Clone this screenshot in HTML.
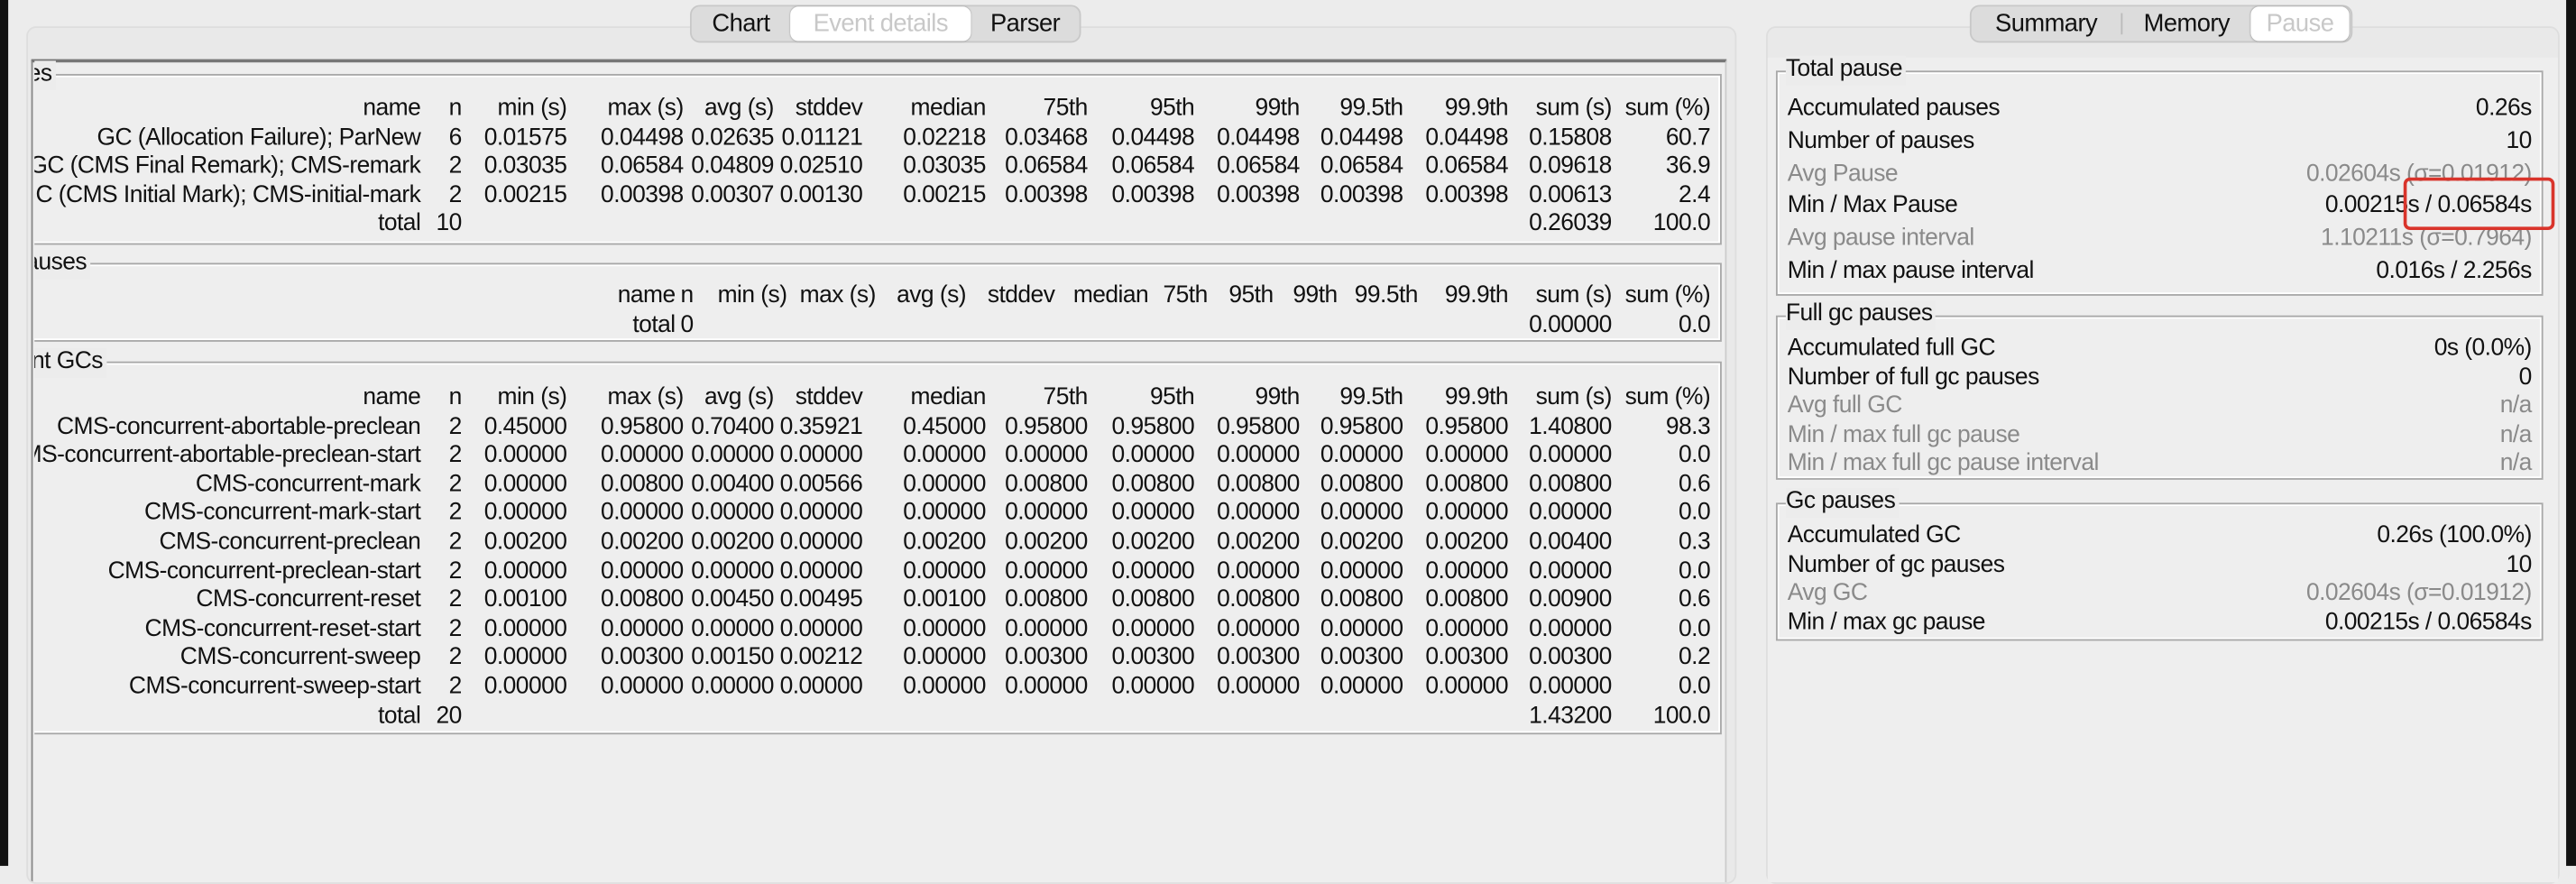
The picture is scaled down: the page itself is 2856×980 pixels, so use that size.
<!DOCTYPE html>
<html><head><meta charset="utf-8">
<style>
html,body{margin:0;padding:0;background:#ececec;overflow:hidden;width:2856px;height:958px;}
#page{position:absolute;left:0;top:0;width:1568px;height:527px;transform:scale(1.82143);transform-origin:0 0;background:#ececec;font-family:"Liberation Sans",sans-serif;font-size:14.5px;letter-spacing:-0.3px;color:#111;}
.abs{position:absolute;}
.t{position:absolute;white-space:nowrap;line-height:18px;height:18px;}
.r{text-align:right;}
.gray{color:#8a8a8a;}
.seg{position:absolute;top:3px;height:21px;background:#dcdcdc;border:1px solid #c8c8c8;border-radius:6px;}
.tab{position:absolute;top:0;height:21px;line-height:21px;text-align:center;font-size:15px;}
.sel{background:#fff;color:#c8c8c8;border-radius:5px;box-shadow:0 0 1px #999;}
.grp{position:absolute;border:1px solid #a8a8a8;box-shadow:inset 0 0 0 1px #fff;}
.gt{position:absolute;background:#ececec;line-height:16px;padding-right:2px;}
</style></head><body>
<div id="page">
  <div class="abs" style="left:0;top:0;width:5px;height:527px;background:#111"></div>
  <div class="abs" style="left:1562px;top:0;width:6px;height:527px;background:#111"></div>

  <div class="abs" id="leftPanel" style="left:16px;top:16px;width:1039px;height:520px;border:1px solid #dedede;border-radius:6px;background:#e9e9e9;overflow:hidden">
    <div class="abs" style="left:2px;top:19px;width:1030px;height:500px;border:1px solid #888;border-top:2px solid #777;border-right:1px solid #ccc;background:#eeeeee"></div>
    <div id="leftContent" class="abs" style="left:4px;top:0;width:1035px;height:520px;overflow:hidden"></div>
  </div>
  <div class="seg" style="left:420px;width:236px">
    <div class="tab" style="left:0;width:60px">Chart</div>
    <div class="tab sel" style="left:60px;width:110px">Event details</div>
    <div class="tab" style="left:170px;width:66px">Parser</div>
  </div>

  <div class="abs" style="left:1075px;top:16px;width:481px;height:520px;border:1px solid #dedede;border-radius:6px;background:#e9e9e9">
    <div class="abs" style="left:0;top:18px;width:481px;height:502px;background:#eeeeee"></div>
  </div>
  <div class="seg" style="left:1199px;width:231px">
    <div class="tab" style="left:0;width:91px">Summary</div>
    <div class="abs" style="left:91px;top:4px;width:1px;height:13px;background:#bbb"></div>
    <div class="tab" style="left:92px;width:78px">Memory</div>
    <div class="tab sel" style="left:170px;width:60px">Pause</div>
  </div>
  <div id="rightContent" class="abs" style="left:0;top:0;width:1568px;height:526px"></div>
  <div class="abs" style="left:1463px;top:108px;width:88px;height:28px;border:2px solid #d9342b;border-radius:4px"></div>
</div>
<script>
var cols1 = [255,280,344,415,470,524,599,661,726,790,853,917,980,1040];
var cols2 = [410,421,478,532,587,641,698,734,774,813,862,917,980,1040];
var headers = ["name","n","min (s)","max (s)","avg (s)","stddev","median","75th","95th","99th","99.5th","99.9th","sum (s)","sum (%)"];
var pauseRows = [
 ["GC (Allocation Failure); ParNew","6","0.01575","0.04498","0.02635","0.01121","0.02218","0.03468","0.04498","0.04498","0.04498","0.04498","0.15808","60.7"],
 ["GC (CMS Final Remark); CMS-remark","2","0.03035","0.06584","0.04809","0.02510","0.03035","0.06584","0.06584","0.06584","0.06584","0.06584","0.09618","36.9"],
 ["GC (CMS Initial Mark); CMS-initial-mark","2","0.00215","0.00398","0.00307","0.00130","0.00215","0.00398","0.00398","0.00398","0.00398","0.00398","0.00613","2.4"],
 ["total","10","","","","","","","","","","","0.26039","100.0"]];
var fullRows = [["total","0","","","","","","","","","","","0.00000","0.0"]];
var concRows = [
 ["CMS-concurrent-abortable-preclean","2","0.45000","0.95800","0.70400","0.35921","0.45000","0.95800","0.95800","0.95800","0.95800","0.95800","1.40800","98.3"],
 ["CMS-concurrent-abortable-preclean-start","2","0.00000","0.00000","0.00000","0.00000","0.00000","0.00000","0.00000","0.00000","0.00000","0.00000","0.00000","0.0"],
 ["CMS-concurrent-mark","2","0.00000","0.00800","0.00400","0.00566","0.00000","0.00800","0.00800","0.00800","0.00800","0.00800","0.00800","0.6"],
 ["CMS-concurrent-mark-start","2","0.00000","0.00000","0.00000","0.00000","0.00000","0.00000","0.00000","0.00000","0.00000","0.00000","0.00000","0.0"],
 ["CMS-concurrent-preclean","2","0.00200","0.00200","0.00200","0.00000","0.00200","0.00200","0.00200","0.00200","0.00200","0.00200","0.00400","0.3"],
 ["CMS-concurrent-preclean-start","2","0.00000","0.00000","0.00000","0.00000","0.00000","0.00000","0.00000","0.00000","0.00000","0.00000","0.00000","0.0"],
 ["CMS-concurrent-reset","2","0.00100","0.00800","0.00450","0.00495","0.00100","0.00800","0.00800","0.00800","0.00800","0.00800","0.00900","0.6"],
 ["CMS-concurrent-reset-start","2","0.00000","0.00000","0.00000","0.00000","0.00000","0.00000","0.00000","0.00000","0.00000","0.00000","0.00000","0.0"],
 ["CMS-concurrent-sweep","2","0.00000","0.00300","0.00150","0.00212","0.00000","0.00300","0.00300","0.00300","0.00300","0.00300","0.00300","0.2"],
 ["CMS-concurrent-sweep-start","2","0.00000","0.00000","0.00000","0.00000","0.00000","0.00000","0.00000","0.00000","0.00000","0.00000","0.00000","0.0"],
 ["total","20","","","","","","","","","","","1.43200","100.0"]];

var L = document.getElementById('leftContent');
var OX = 20, OY = 16;
function txt(parent, s, x, y, right, cls, ox, oy){
  var d = document.createElement('div');
  d.className = 't' + (right ? ' r' : '') + (cls ? ' ' + cls : '');
  d.textContent = s;
  if (right){ d.style.left = (x - ox - 400) + 'px'; d.style.width = '400px'; }
  else d.style.left = (x - ox) + 'px';
  d.style.top = (y - oy - 9) + 'px';
  parent.appendChild(d);
  return d;
}
function group(title, tx, y, h, name){
  var g = document.createElement('div');
  g.className = 'grp';
  g.style.left = (-40-OX)+'px'; g.style.top=(y-OY)+'px'; g.style.width='1085px'; g.style.height=h+'px';
  
  
  L.appendChild(g);
  var t = txt(L, title, tx, y+1, false, 'gt', OX, OY);
  
  
}
function table(rows, cols, y0, step, name){
  headers.forEach(function(h,i){
    var e = txt(L, h, cols[i], y0, true, '', OX, OY);
    
    
  });
  rows.forEach(function(r,ri){
    r.forEach(function(v,i){
      if(!v) return;
      var e = txt(L, v, cols[i], y0 + step*(ri+1), true, '', OX, OY);
      
      
    });
  });
}
group('Pauses', -16, 44, 102, 'pauses-group');
table(pauseRows, cols1, 65, 17.5, 'pauses');
group('Full GC pauses', -44, 159, 46, 'full-gc-group');
table(fullRows, cols2, 179, 18, 'full-gc');
group('Concurrent GCs', -39, 219, 225, 'concurrent-group');
table(concRows, cols1, 241, 17.6, 'concurrent');

var R = document.getElementById('rightContent');
var totalLabels = ["Accumulated pauses","Number of pauses","Avg Pause","Min / Max Pause","Avg pause interval","Min / max pause interval"];
var totalValues = ["0.26s","10","0.02604s (σ=0.01912)","0.00215s / 0.06584s","1.10211s (σ=0.7964)","0.016s / 2.256s"];
var totalGray = [0,0,1,0,1,0];
var fullLabels = ["Accumulated full GC","Number of full gc pauses","Avg full GC","Min / max full gc pause","Min / max full gc pause interval"];
var fullValues = ["0s (0.0%)","0","n/a","n/a","n/a"];
var fullGray = [0,0,1,1,1];
var gcLabels = ["Accumulated GC","Number of gc pauses","Avg GC","Min / max gc pause"];
var gcValues = ["0.26s (100.0%)","10","0.02604s (σ=0.01912)","0.00215s / 0.06584s"];
var gcGray = [0,0,1,0];
function rgroup(title, y, h, labels, values, gray, y0, step, name){
  var g = document.createElement('div');
  g.className='grp';
  g.style.left='1081px'; g.style.top=y+'px'; g.style.width='465px'; g.style.height=h+'px';
  
  
  R.appendChild(g);
  var t = txt(R, title, 1087, y, false, 'gt', 0, 0);
  
  
  labels.forEach(function(l,i){
    var a = txt(R, l, 1088, y0+step*i, false, gray[i]?'gray':'', 0, 0);
    
    
    var b = txt(R, values[i], 1541, y0+step*i, true, gray[i]?'gray':'', 0, 0);
    
    
  });
}
rgroup('Total pause', 43, 135, totalLabels, totalValues, totalGray, 66, 19.8, 'total-pause-group');
rgroup('Full gc pauses', 192, 98, fullLabels, fullValues, fullGray, 212, 17.6, 'full-gc-pauses-group');
rgroup('Gc pauses', 306, 82, gcLabels, gcValues, gcGray, 326, 17.7, 'gc-pauses-group');
</script>
</body></html>
